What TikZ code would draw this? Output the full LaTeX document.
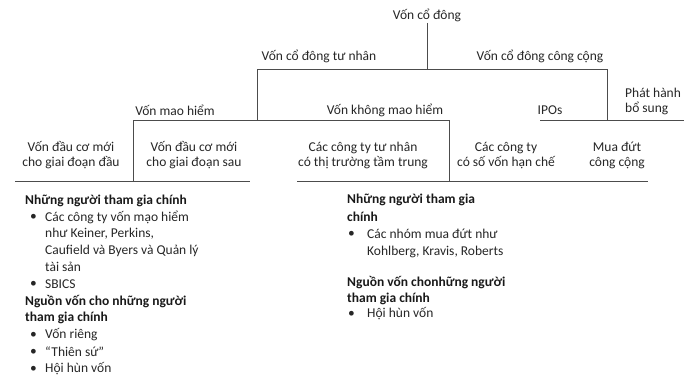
\documentclass[tikz,border=0pt]{standalone}
\usepackage{fontspec}
\setmainfont{Carlito}
\begin{document}
\begin{tikzpicture}[x=1pt,y=-1pt,
  lbl/.style={font=\fontsize{13.5}{15}\selectfont, text=black!85, inner sep=0pt, align=center},
  bl/.style={font=\fontsize{13.5}{15}\selectfont, text=black!85, inner sep=0pt, anchor=west},
  bh/.style={font=\bfseries\fontsize{13.5}{15}\selectfont, text=black!90, inner sep=0pt, anchor=west},
  ln/.style={draw=black!70, line width=0.9pt}]
\useasboundingbox (0,0) rectangle (684,377);
% coordinates
\coordinate (top) at (427,23);
\coordinate (h1m) at (427,69);
\coordinate (h1l) at (257,69);
\coordinate (h1r) at (607,69);
\coordinate (h2l) at (133,120);
\coordinate (h2m) at (257,120);
\coordinate (h2r) at (449,120);
\coordinate (h3l) at (540,120);
\coordinate (h3m) at (607,120);
\coordinate (h3r) at (684,120);
\coordinate (b1) at (133,181);
\coordinate (b2) at (449,181);
\coordinate (h4l) at (15,181);
\coordinate (h4r) at (250,181);
\coordinate (h5l) at (297,181);
\coordinate (h5r) at (648,181);
% lines
\draw[ln] (top) -- (h1m);
\draw[ln] (h2m) -- (h1l) -- (h1r) -- (h3m);
\draw[ln] (b1) -- (h2l) -- (h2r) -- (b2);
\draw[ln] (h3l) -- (h3r);
\draw[ln] (h4l) -- (h4r);
\draw[ln] (h5l) -- (h5r);
% labels
\node[lbl] (vcd) at (427,15) {Vốn cổ đông};
\node[lbl] (tn) at (319,56) {Vốn cổ đông tư nhân};
\node[lbl] (cc) at (540,56) {Vốn cổ đông công cộng};
\node[lbl] (mh) at (175,110) {Vốn mao hiểm};
\node[lbl] (kmh) at (385,110) {Vốn không mao hiểm};
\node[lbl] (ipo) at (550,110) {IPOs};
\node[lbl, align=left, anchor=west] (ph) at (625,101) {Phát hành\\bổ sung};
\node[lbl] (dau) at (71,155.5) {Vốn đầu cơ mới\\cho giai đoạn đầu};
\node[lbl] (sau) at (194,155.5) {Vốn đầu cơ mới\\cho giai đoạn sau};
\node[lbl] (ttt) at (363,155.5) {Các công ty tư nhân\\có thị trường tầm trung};
\node[lbl] (hc) at (506,155.5) {Các công ty\\có số vốn hạn chế};
\node[lbl] (md) at (617,155.5) {Mua đứt\\công cộng};
% left list
\node[bh] (l1) at (25,201) {Những người tham gia chính};
\node[bl] (l2b) at (30,217) {•};
\node[bl] (l2) at (45,217) {Các công ty vốn mạo hiểm};
\node[bl] (l3) at (45,234) {như Keiner, Perkins,};
\node[bl] (l4) at (45,251) {Caufield và Byers và Quản lý};
\node[bl] (l5) at (45,267) {tài sản};
\node[bl] (l6b) at (30,284) {•};
\node[bl] (l6) at (45,284) {SBICS};
\node[bh] (l7) at (25,302) {Nguồn vốn cho những người};
\node[bh] (l8) at (25,318) {tham gia chính};
\node[bl] (l9b) at (30,335) {•};
\node[bl] (l9) at (45,335) {Vốn riêng};
\node[bl] (l10b) at (30,352) {•};
\node[bl] (l10) at (45,352) {“Thiên sứ”};
\node[bl] (l11b) at (30,369) {•};
\node[bl] (l11) at (45,369) {Hội hùn vốn};
% right list
\node[bh] (r1) at (347,200) {Những người tham gia};
\node[bh] (r2) at (347,217) {chính};
\node[bl] (r3b) at (348,234) {•};
\node[bl] (r3) at (367,234) {Các nhóm mua đứt như};
\node[bl] (r4) at (367,252) {Kohlberg, Kravis, Roberts};
\node[bh] (r5) at (347,283) {Nguồn vốn chonhững người};
\node[bh] (r6) at (347,299) {tham gia chính};
\node[bl] (r7b) at (348,314) {•};
\node[bl] (r7) at (367,314) {Hội hùn vốn};
\end{tikzpicture}
\end{document}
